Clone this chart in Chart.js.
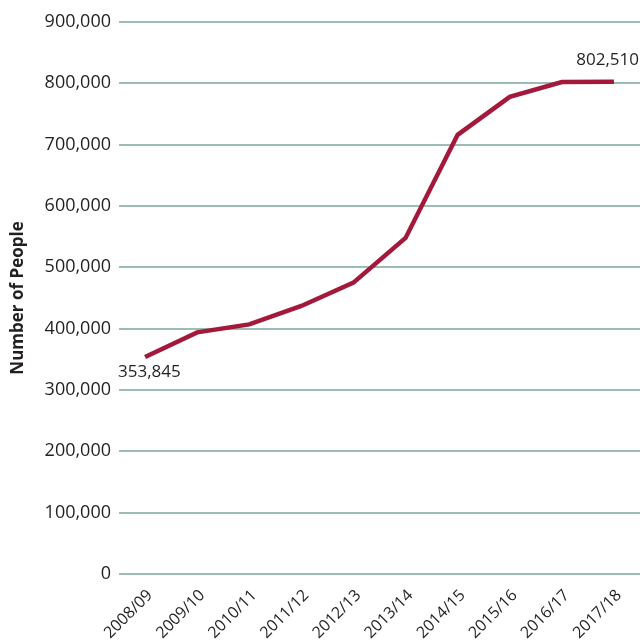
<!DOCTYPE html>
<html>
<head>
<meta charset="utf-8">
<script src="https://cdn.jsdelivr.net/npm/chart.js@4/dist/chart.umd.min.js"></script>
<style>
  html, body { margin: 0; padding: 0; background: #ffffff; }
  #wrap { width: 640px; height: 643px; position: relative; }
</style>
</head>
<body>
<div id="wrap"><canvas id="chart"></canvas></div>
<script>
// Financial years shown along the bottom axis
const years = ['2008/09', '2009/10', '2010/11', '2011/12', '2012/13',
               '2013/14', '2014/15', '2015/16', '2016/17', '2017/18'];
// Number of people in each year
const people = [353845, 394000, 407000, 437000, 475000,
                548000, 716000, 778000, 802000, 802510];
// Indices of the points that carry a value label
const labelledPoints = [0, 9];

const FONT = "'Open Sans', 'DejaVu Sans', sans-serif";
const INK = '#231f20';

// Writes the value next to the first and last points
const pointLabels = {
  id: 'pointLabels',
  afterDatasetsDraw(chart) {
    const { ctx } = chart;
    const meta = chart.getDatasetMeta(0);
    ctx.save();
    ctx.fillStyle = INK;
    ctx.font = '17px ' + FONT;
    labelledPoints.forEach(i => {
      const pt = meta.data[i];
      const text = people[i].toLocaleString('en-US');
      ctx.textBaseline = 'middle';
      if (i === 0) {
        ctx.textAlign = 'left';
        ctx.fillText(text, pt.x - 27, pt.y + 15);
      } else {
        ctx.textAlign = 'right';
        ctx.fillText(text, pt.x + 25, pt.y - 22);
      }
    });
    ctx.restore();
  }
};

new Chart(document.getElementById('chart'), {
  type: 'line',
  data: {
    labels: years,
    datasets: [{
      data: people,
      borderColor: '#a3193b',
      borderWidth: 4.5,
      tension: 0,
      pointRadius: 0,
      pointHoverRadius: 0,
      fill: false
    }]
  },
  options: {
    responsive: true,
    maintainAspectRatio: false,
    animation: false,
    layout: { padding: { top: 22, right: 0, bottom: 0, left: 0 } },
    plugins: {
      legend: { display: false },
      tooltip: { enabled: false }
    },
    scales: {
      x: {
        offset: true,
        grid: { display: false },
        border: { display: false },
        ticks: {
          color: INK,
          font: { family: FONT, size: 16 },
          minRotation: 45,
          maxRotation: 45,
          padding: 4,
          labelOffset: 5,
          autoSkip: false
        },
        afterFit(scale) { scale.height = 69; }
      },
      y: {
        min: 0,
        max: 900000,
        grid: { color: '#9cbdb1', lineWidth: 2, drawTicks: false },
        border: { display: false },
        ticks: {
          stepSize: 100000,
          color: INK,
          font: { family: FONT, size: 18 },
          padding: 8
        },
        title: {
          display: true,
          text: 'Number of People',
          color: INK,
          font: { family: FONT, size: 17, weight: 'bold' },
          padding: { top: 8, bottom: 0 }
        },
        afterFit(scale) { scale.width = 119; }
      }
    }
  },
  plugins: [pointLabels]
});
</script>
</body>
</html>
